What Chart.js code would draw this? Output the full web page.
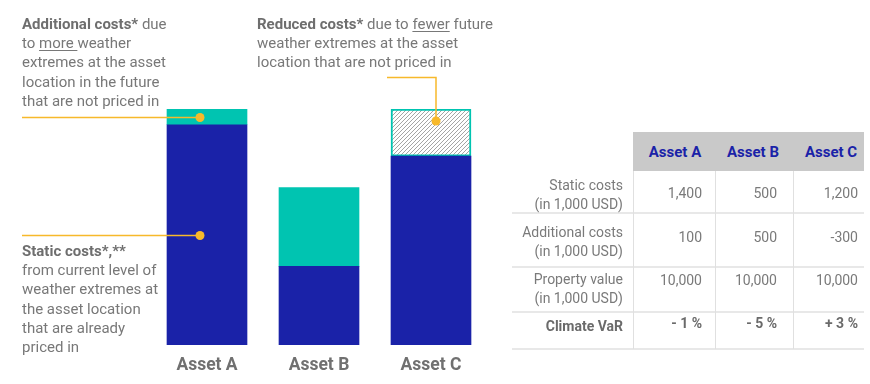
<!DOCTYPE html>
<html>
<head>
<meta charset="utf-8">
<script src="https://cdn.jsdelivr.net/npm/chart.js@4/dist/chart.umd.min.js"></script>
<style>
  body { margin: 0; background: #fff; font-family: Roboto, sans-serif; }
  #wrap { position: relative; width: 870px; height: 384px; overflow: hidden; }
  #chartBox { position: absolute; left: 0; top: 0; width: 870px; height: 384px; }
  .note { position: absolute; font-size: 15px; line-height: 19.2px; color: #787878; white-space: nowrap; }
  .note b { color: #6e6e6e; }
  .note u { text-decoration-thickness: 1px; text-underline-offset: 2px; }
  .t { position: absolute; font-size: 14px; line-height: 19px; color: #7a7a7a; white-space: nowrap; }
  .hd { position: absolute; font-size: 15px; font-weight: 700; color: #1a22a8; white-space: nowrap; transform: translate(-50%, -50%); }
</style>
</head>
<body>
<div id="wrap">
  <div id="chartBox"><canvas id="costChart"></canvas></div>

  <div class="note" style="left:22px; top:15px;">
    <b>Additional costs*</b> due<br>to <u>more </u>weather<br>extremes at the asset<br>location in the future<br>that are not priced in
  </div>
  <div class="note" style="left:22px; top:242px;">
    <b>Static costs*,**</b><br>from current level of<br>weather extremes at<br>the asset location<br>that are already<br>priced in
  </div>
  <div class="note" style="left:257px; top:15px;">
    <b>Reduced costs*</b> due to <u>fewer</u> future<br>weather extremes at the asset<br>location that are not priced in
  </div>

  <div id="table"></div>
</div>

<script>
// chart data
const assets = ['Asset A', 'Asset B', 'Asset C'];
const staticCosts = [1400, 500, 1200];
const additionalCosts = [100, 500, null];
const reducedCosts = [null, null, 300];

// table data
const rowLabels = [
  ['Static costs', '(in 1,000 USD)'],
  ['Additional costs', '(in 1,000 USD)'],
  ['Property value', '(in 1,000 USD)'],
  ['Climate VaR']
];
const staticText = ['1,400', '500', '1,200'];
const additionalText = ['100', '500', '-300'];
const propertyText = ['10,000', '10,000', '10,000'];
const varText = ['- 1 %', '- 5 %', '+ 3 %'];

// hatch pattern for the reduced costs
function makeHatch() {
  const c = document.createElement('canvas');
  c.width = 4;
  c.height = 4;
  const g = c.getContext('2d');
  g.fillStyle = '#ffffff';
  g.fillRect(0, 0, 4, 4);
  g.strokeStyle = '#9a9a9a';
  g.lineWidth = 0.9;
  g.beginPath();
  g.moveTo(0, 4); g.lineTo(4, 0);
  g.moveTo(-1, 1); g.lineTo(1, -1);
  g.moveTo(3, 5); g.lineTo(5, 3);
  g.stroke();
  return g.createPattern(c, 'repeat');
}

// yellow leader lines with dots
const leaders = {
  id: 'leaders',
  afterDatasetsDraw(chart) {
    const ctx = chart.ctx;
    const statA = chart.getDatasetMeta(0).data[0];
    const addA = chart.getDatasetMeta(1).data[0];
    const redC = chart.getDatasetMeta(2).data[2];
    const yellow = '#f7b92b';

    function dot(x, y) {
      ctx.beginPath();
      ctx.arc(x, y, 4.5, 0, Math.PI * 2);
      ctx.fillStyle = yellow;
      ctx.fill();
    }

    ctx.save();
    ctx.strokeStyle = yellow;
    ctx.lineWidth = 1.5;

    let y1 = Math.round((addA.y + addA.base) / 2) + 0.5;
    let x1 = addA.x - 7;
    ctx.beginPath(); ctx.moveTo(22, y1); ctx.lineTo(x1, y1); ctx.stroke();
    dot(x1, y1);

    let y2 = Math.round((statA.y + statA.base) / 2) + 0.5;
    let x2 = statA.x - 7;
    ctx.beginPath(); ctx.moveTo(22, y2); ctx.lineTo(x2, y2); ctx.stroke();
    dot(x2, y2);

    let x3 = redC.x + 5;
    let y3 = redC.y + 12;
    ctx.beginPath(); ctx.moveTo(x3, y3); ctx.lineTo(x3, 77.5); ctx.lineTo(387, 77.5); ctx.stroke();
    dot(x3, y3);
    ctx.restore();
  }
};

Chart.defaults.font.family = 'Roboto';

new Chart(document.getElementById('costChart'), {
  type: 'bar',
  data: {
    labels: assets,
    datasets: [
      {
        label: 'Static costs',
        data: staticCosts,
        backgroundColor: '#1a22a8',
        barThickness: 80
      },
      {
        label: 'Additional costs',
        data: additionalCosts,
        backgroundColor: '#00c4b1',
        barThickness: 80
      },
      {
        label: 'Reduced costs',
        data: reducedCosts,
        backgroundColor: makeHatch(),
        borderColor: '#00c4b1',
        borderWidth: 2,
        borderSkipped: false,
        barThickness: 80
      }
    ]
  },
  options: {
    responsive: true,
    maintainAspectRatio: false,
    animation: false,
    layout: { padding: { left: 151, right: 383, top: 109, bottom: 0 } },
    plugins: {
      legend: { display: false },
      tooltip: { enabled: false }
    },
    scales: {
      x: {
        stacked: true,
        grid: { display: false, drawTicks: false },
        border: { display: false },
        ticks: {
          padding: 10,
          color: '#707070',
          font: { size: 17.5, weight: 'bold' }
        },
        afterFit(scale) { scale.height = 39; }
      },
      y: {
        stacked: true,
        display: false,
        min: 0,
        max: 1500
      }
    }
  },
  plugins: [leaders]
});

// build the table from the arrays
const table = document.getElementById('table');
function box(style) {
  const d = document.createElement('div');
  d.style.cssText = 'position:absolute;' + style;
  table.appendChild(d);
  return d;
}
const colRight = [702, 777, 858];
const colCenter = [675, 753, 831];
const lineRows = [213, 267, 312, 349];
const labelTops = [176, 223, 270, 317];
const valueMid = [193, 237, 280, 323];

box('left:633px;top:132px;width:231px;height:39px;background:#c9c9c9;');
lineRows.forEach(y => box('left:512px;top:' + (y - 1) + 'px;width:352px;height:2px;background:#e8e8e8;'));
[633, 715, 793].forEach(x => box('left:' + x + 'px;top:171px;width:1px;height:178px;background:#e0e0e0;'));

assets.forEach((a, i) => {
  const d = box('left:' + colCenter[i] + 'px;top:152px;');
  d.className = 'hd';
  d.textContent = a;
});

rowLabels.forEach((lines, r) => {
  const d = box('right:' + (870 - 623) + 'px;top:' + labelTops[r] + 'px;text-align:right;');
  d.className = 't';
  d.innerHTML = lines.join('<br>');
  if (r === 3) { d.style.fontWeight = '700'; d.style.color = '#6a6a6a'; }
});

[staticText, additionalText, propertyText, varText].forEach((vals, r) => {
  vals.forEach((v, i) => {
    const d = box('right:' + (870 - colRight[i]) + 'px;top:' + (valueMid[r] - 9.5) + 'px;text-align:right;');
    d.className = 't';
    d.textContent = v;
    if (r === 3) { d.style.fontWeight = '700'; d.style.color = '#6a6a6a'; }
  });
});
</script>
</body>
</html>
